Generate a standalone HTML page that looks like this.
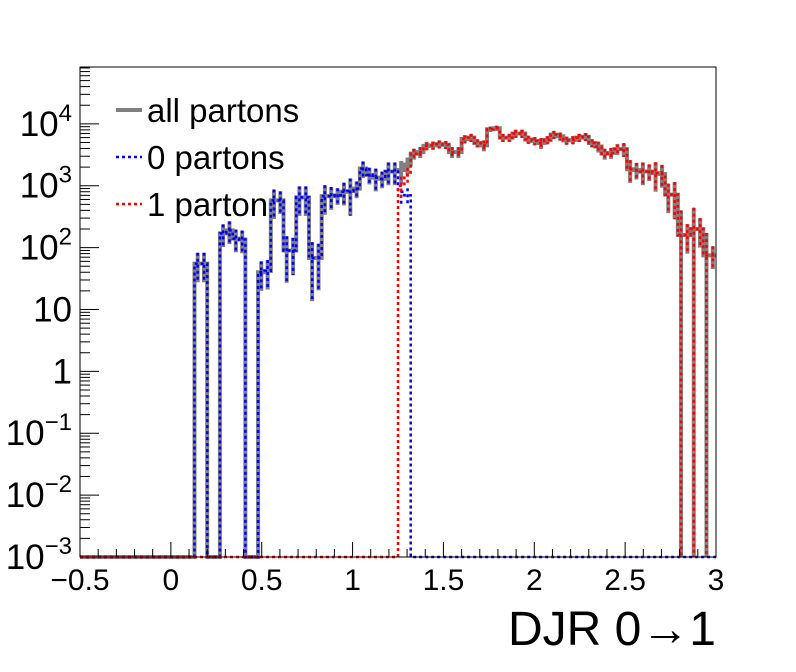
<!DOCTYPE html>
<html><head><meta charset="utf-8"><style>
body{margin:0;background:#fff}
svg{display:block;font-family:"Liberation Sans",sans-serif}
</style></head><body>
<svg id="c" width="796" height="672">
<rect x="0" y="0" width="796" height="672" fill="#fff"/>
<g id="plot"></g>
<rect x="80" y="67" width="636" height="490" fill="none" stroke="#000" stroke-width="1"/>
<g id="axes"></g>
<g>
<g><line x1="116" y1="110" x2="142" y2="110" stroke="#808080" stroke-width="4"/><text x="147" y="122" font-size="33">all partons</text></g>
<g><line x1="116" y1="157" x2="142" y2="157" stroke="#0000ff" stroke-width="2.5" stroke-dasharray="3,3"/><text x="147" y="169" font-size="33">0 partons</text></g>
<g><line x1="116" y1="204" x2="142" y2="204" stroke="#ff0000" stroke-width="2.5" stroke-dasharray="3,3"/><text x="147" y="216" font-size="33">1 parton</text></g>
</g>
<text x="716" y="645" font-size="48" text-anchor="end">DJR 0→1</text>
</svg>
<script>
const totals=[0,0,0,0,0,0,0,0,0,0,0,0,0,0,0,0,0,0,55,55,0,0,170,190,140,135,0,0,40,42,580,580,90,90,650,650,68,68,680,680,700,800,820,900,1900,1500,1350,1300,1700,1700,1800,2200,3300,3500,4400,4500,4700,4600,3500,3500,5700,6000,4900,4500,8200,8500,6000,6000,7000,7000,5600,5300,4900,5500,6700,6300,5400,5500,6000,6200,4900,4300,3300,3400,3900,3900,1850,1800,1700,1700,1600,1550,720,720,160,160,200,200,75,75];
const zeroPartons=[0,0,0,0,0,0,0,0,0,0,0,0,0,0,0,0,0,0,55,55,0,0,170,190,140,135,0,0,40,42,580,580,90,90,650,650,68,68,680,680,700,800,820,900,1900,1500,1350,1300,1700,1700,800,700,0,0,0,0,0,0,0,0,0,0,0,0,0,0,0,0,0,0,0,0,0,0,0,0,0,0,0,0,0,0,0,0,0,0,0,0,0,0,0,0,0,0,0,0,0,0,0,0];
const oneParton=[0,0,0,0,0,0,0,0,0,0,0,0,0,0,0,0,0,0,0,0,0,0,0,0,0,0,0,0,0,0,0,0,0,0,0,0,0,0,0,0,0,0,0,0,0,0,0,0,0,0,1000,1500,3300,3500,4400,4500,4700,4600,3500,3500,5700,6000,4900,4500,8200,8500,6000,6000,7000,7000,5600,5300,4900,5500,6700,6300,5400,5500,6000,6200,4900,4300,3300,3400,3900,3900,1850,1800,1700,1700,1600,1550,720,720,160,160,200,200,75,75];
const relErr=[0,0,0,0,0,0,0,0,0,0,0,0,0,0,0,0,0,0,0.5,0.5,0,0,0.4,0.4,0.4,0.4,0,0,0.5,0.5,0.5,0.4,0.7,0.6,0.5,0.5,0.8,0.7,0.5,0.4,0.3,0.4,0.6,0.3,0.3,0.3,0.4,0.3,0.4,0.4,0.4,0.3,0.2,0.2,0.15,0.15,0.15,0.15,0.2,0.2,0.15,0.15,0.15,0.2,0.1,0.1,0.15,0.15,0.15,0.15,0.15,0.15,0.2,0.15,0.15,0.15,0.15,0.15,0.15,0.15,0.15,0.2,0.2,0.2,0.2,0.25,0.4,0.3,0.4,0.3,0.5,0.4,0.5,0.6,1.5,0.5,1.2,0.5,1.3,0.4];
const xTicks=["\u22120.5","0","0.5","1","1.5","2","2.5","3"];
const xTickVals=[-0.5,0,0.5,1,1.5,2,2.5,3];
const yExps=[-3,-2,-1,0,1,2,3,4];
const xMin=-0.5,xMax=3,nBins=100;
const X0=80,X1=716,Y0=557,Y1=67,logMin=-3,logTop=4.919;
function xs(v){return X0+(v-xMin)/(xMax-xMin)*(X1-X0);}
function ys(v){if(!(v>0))return Y0;const l=Math.log10(v);if(l<=logMin)return Y0;return Y0-(l-logMin)/(logTop-logMin)*(Y0-Y1);}
const NS="http://www.w3.org/2000/svg";
const plot=document.getElementById('plot'),axes=document.getElementById('axes');
function mk(t,a,p){const e=document.createElementNS(NS,t);for(const k in a)e.setAttribute(k,a[k]);p.appendChild(e);return e;}
const bw=(xMax-xMin)/nBins;
function hist(vals,color,w,dash,name,errs){
  let d='';
  for(let i=0;i<nBins;i++){const xl=xs(xMin+i*bw),xr=xs(xMin+(i+1)*bw),y=ys(vals[i]);d+=(i===0?'M':'L')+xl+','+y+'L'+xr+','+y;}
  const p=mk('path',{d:d,fill:'none',stroke:color,'stroke-width':w},plot);
  if(dash)p.setAttribute('stroke-dasharray',dash);
  
  
  if(errs){for(let i=0;i<nBins;i++){if(!(vals[i]>0))continue;const xc=xs(xMin+(i+0.5)*bw);const lo=vals[i]*(1-errs[i]),hi=vals[i]*(1+errs[i]);
    const l=mk('line',{x1:xc,x2:xc,y1:ys(hi),y2:ys(lo),stroke:color,'stroke-width':w},plot);
    if(dash)l.setAttribute('stroke-dasharray',dash);
    
    }}
}
hist(totals,'#808080',4,null,'hist-all-partons',relErr);
hist(zeroPartons,'#0000ff',2.5,'3,3','hist-0-partons',relErr);
hist(oneParton,'#ff0000',2.5,'3,3','hist-1-parton',relErr);
for(let k=0;k<=35;k++){const v=xMin+k*0.1;const x=xs(v);const major=(k%5===0);
  const t=mk('line',{x1:x,x2:x,y1:Y0,y2:Y0-(major?15:8),stroke:'#000','stroke-width':1},axes);
  
  }
xTickVals.forEach((v,i)=>{const t=mk('text',{x:xs(v),y:590,'font-size':30,'text-anchor':'middle'},axes);t.textContent=xTicks[i];
  
  });
for(let e=-3;e<=4;e++){for(let m=1;m<=9;m++){const v=m*Math.pow(10,e);if(Math.log10(v)>logTop)break;const y=ys(v);
  const t=mk('line',{x1:X0,x2:X0+(m===1?19:10),y1:y,y2:y,stroke:'#000','stroke-width':1},axes);
  
  }}
yExps.forEach(e=>{const y=ys(Math.pow(10,e))+12;const t=mk('text',{x:72,y:y,'font-size':35,'text-anchor':'end'},axes);
  if(e===0)t.textContent='1';else if(e===1)t.textContent='10';
  else{t.textContent='10';const s=mk('tspan',{'font-size':24,dy:-15},t);s.textContent=(e<0?'\u2212':'')+Math.abs(e);}
  
  });
</script>
</body></html>
